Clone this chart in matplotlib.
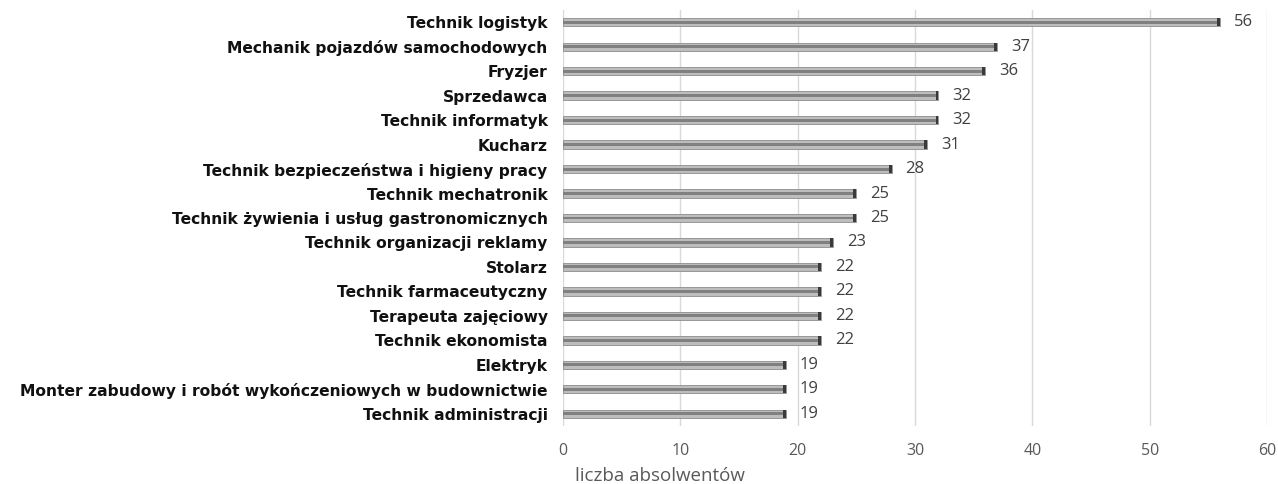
import matplotlib.pyplot as plt
import numpy as np

# dane: zawody i liczba absolwentów (od góry)
zawody = [
    "Technik logistyk",
    "Mechanik pojazdów samochodowych",
    "Fryzjer",
    "Sprzedawca",
    "Technik informatyk",
    "Kucharz",
    "Technik bezpieczeństwa i higieny pracy",
    "Technik mechatronik",
    "Technik żywienia i usług gastronomicznych",
    "Technik organizacji reklamy",
    "Stolarz",
    "Technik farmaceutyczny",
    "Terapeuta zajęciowy",
    "Technik ekonomista",
    "Elektryk",
    "Monter zabudowy i robót wykończeniowych w budownictwie",
    "Technik administracji",
]
absolwenci = [56, 37, 36, 32, 32, 31, 28, 25, 25, 23, 22, 22, 22, 22, 19, 19, 19]
x_ticks = [0, 10, 20, 30, 40, 50, 60]

plt.rcParams['font.family'] = ['Open Sans', 'DejaVu Sans']

fig = plt.figure(figsize=(12.78, 4.84), dpi=100)
ax = fig.add_axes([563 / 1278, 1 - 426 / 484, 704 / 1278, 416 / 484])

y = np.arange(len(zawody))
vals = np.array(absolwenci)

# "cylindryczne" paski: jasne tło, ciemniejszy środek, ciemna końcówka
ax.barh(y, vals, height=0.34, color='#bdbdbd', edgecolor='#8c8c8c', linewidth=0.6, zorder=2)
ax.barh(y, vals, height=0.12, color='#808080', linewidth=0, zorder=3)
ax.barh(y, 0.25, left=vals - 0.25, height=0.34, color='#3a3a3a', linewidth=0, zorder=4)

for yi, v in zip(y, vals):
    ax.text(v + 1.2, yi, str(v), va='center', ha='left', fontsize=12, color='#404040')

ax.set_xlim(0, 60)
ax.set_ylim(len(zawody) - 0.5, -0.5)
ax.set_xticks(x_ticks)
ax.set_yticks(y)
ax.set_yticklabels(zawody, fontsize=11.2, fontweight='bold', color='#111111',
                   family='DejaVu Sans')
ax.tick_params(axis='x', colors='#595959', labelsize=11.5, length=0, pad=12)
ax.tick_params(axis='y', length=0, pad=11)
ax.grid(axis='x', color='#d9d9d9', linewidth=1, zorder=0)
for s in ax.spines.values():
    s.set_visible(False)

fig.text(660 / 1278, 1 - 476 / 484, "liczba absolwentów", ha='center', va='center',
         fontsize=13.5, color='#595959')

fig.savefig("out.png", dpi=100)
